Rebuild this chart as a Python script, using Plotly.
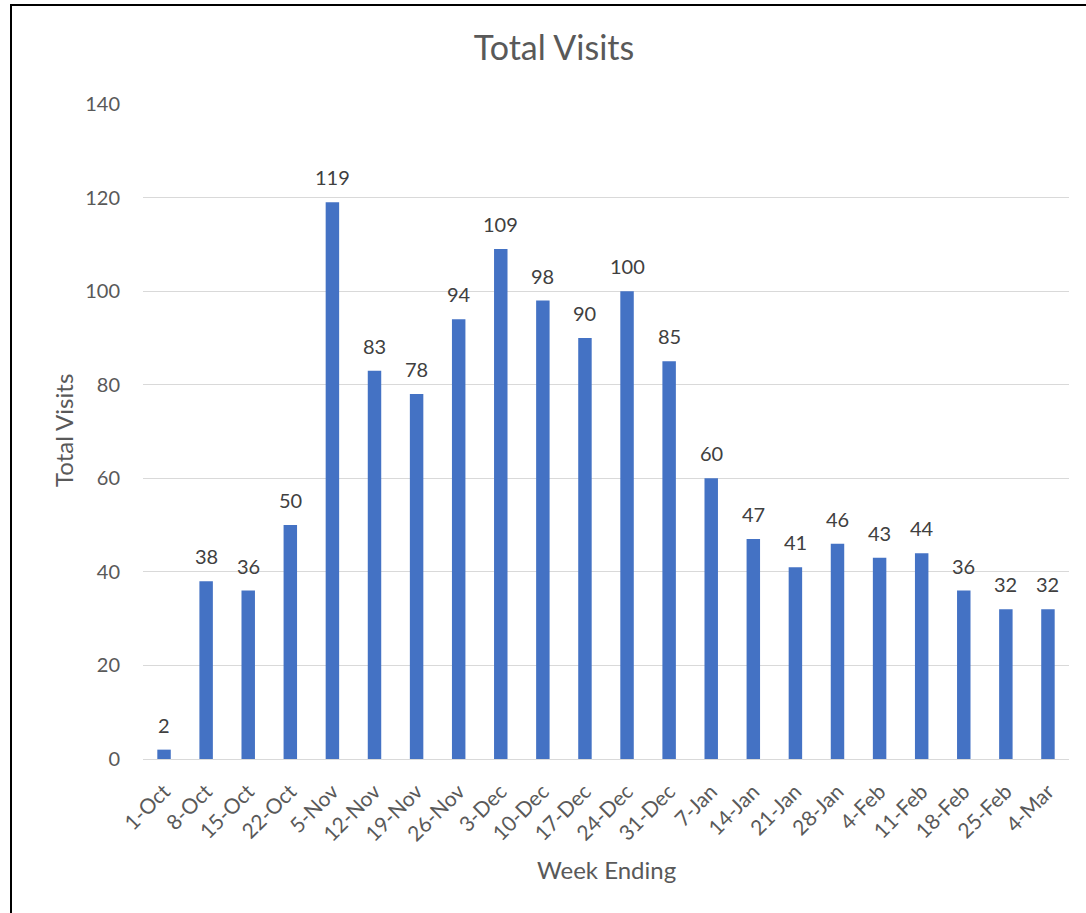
import plotly.graph_objects as go

weeks = ["1-Oct", "8-Oct", "15-Oct", "22-Oct", "5-Nov", "12-Nov", "19-Nov", "26-Nov",
         "3-Dec", "10-Dec", "17-Dec", "24-Dec", "31-Dec", "7-Jan", "14-Jan", "21-Jan",
         "28-Jan", "4-Feb", "11-Feb", "18-Feb", "25-Feb", "4-Mar"]
visits = [2, 38, 36, 50, 119, 83, 78, 94, 109, 98, 90, 100, 85, 60, 47, 41, 46, 43, 44, 36, 32, 32]
y_ticks = [0, 20, 40, 60, 80, 100, 120, 140]

FONT = "Lato"
W, H = 1086, 913
L, R, T, B = 143, 17, 104, 154
pw, ph = W - L - R, H - T - B

fig = go.Figure()
fig.add_trace(go.Bar(
    x=weeks, y=visits,
    marker=dict(color="#4472C4", line=dict(width=0)),
    width=0.32,
    hoverinfo="x+y",
))

# data labels above each bar
labels = [
    dict(x=w, y=v, xref="x", yref="y", text=str(v), showarrow=False,
         xanchor="center", yanchor="bottom", yshift=11,
         font=dict(family=FONT, size=20, color="#404040"))
    for w, v in zip(weeks, visits)
]

fig.update_layout(
    width=W, height=H,
    margin=dict(l=L, r=R, t=T, b=B),
    paper_bgcolor="white", plot_bgcolor="white",
    showlegend=False,
    font=dict(family=FONT, color="#595959"),
    title=dict(text="Total Visits", x=554 / W, xanchor="center",
               y=1 - 48 / H, yanchor="middle", yref="container",
               font=dict(family=FONT, size=34, color="#595959")),
    xaxis=dict(
        type="category", tickangle=-45,
        tickfont=dict(family=FONT, size=21, color="#595959"),
        showline=True, linecolor="#D9D9D9", linewidth=1,
        ticks="", showgrid=False, ticklabelstandoff=11,
    ),
    yaxis=dict(
        range=[0, 140], tickvals=y_ticks,
        tickfont=dict(family=FONT, size=20, color="#595959"),
        showgrid=True, gridcolor="#D9D9D9", gridwidth=1,
        zeroline=False, ticks="", ticklabelstandoff=22,
    ),
    annotations=labels + [
        dict(text="Total Visits", xref="paper", yref="paper",
             x=(63 - L) / pw, y=(H - B - 431) / ph, textangle=-90,
             showarrow=False, xanchor="center", yanchor="middle",
             font=dict(family=FONT, size=24, color="#595959")),
        dict(text="Week Ending", xref="paper", yref="paper",
             x=(606 - L) / pw, y=(H - B - 870) / ph,
             showarrow=False, xanchor="center", yanchor="middle",
             font=dict(family=FONT, size=24, color="#595959")),
    ],
    shapes=[
        dict(type="rect", xref="paper", yref="paper",
             x0=(11 - L) / pw, x1=(W + 10 - L) / pw,
             y0=(H - B - (H + 10)) / ph, y1=(H - B - 5) / ph,
             line=dict(color="black", width=2), fillcolor="rgba(0,0,0,0)",
             layer="above"),
    ],
)

fig.write_html(
    "out.html",
    config={"displayModeBar": False},
    post_script="document.body.style.margin='0';document.body.style.overflow='hidden';",
)
